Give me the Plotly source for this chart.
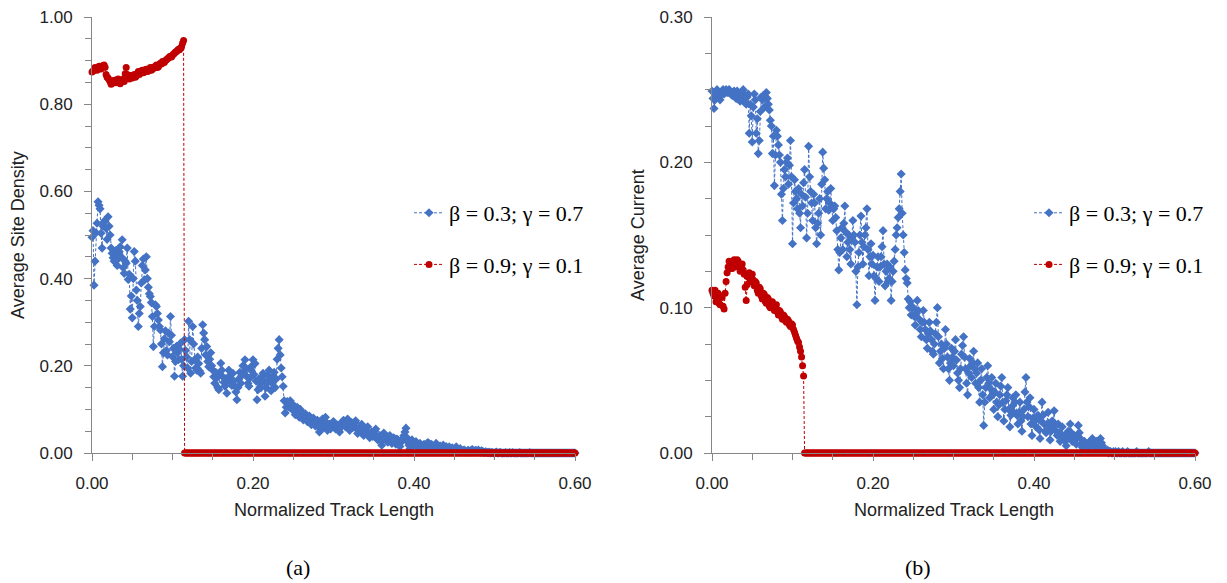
import plotly.graph_objects as go

# Positions along the track (normalized), one sample every 0.00125 from 0 to 0.6
track = [round(i * 0.00125, 5) for i in range(481)]

# Average site density, beta = 0.3, gamma = 0.7
density_b03 = [
    0.495, 0.510, 0.385, 0.440, 0.505, 0.527, 0.576, 0.568, 0.560, 0.504, 0.470, 0.520, 0.530, 0.534, 0.515, 0.490, 0.542, 0.520, 0.500, 0.470,
    0.458, 0.448, 0.440, 0.455, 0.465, 0.430, 0.445, 0.462, 0.473, 0.450, 0.489, 0.425, 0.412, 0.440, 0.435, 0.470, 0.398, 0.410, 0.330, 0.360,
    0.310, 0.400, 0.462, 0.440, 0.374, 0.350, 0.290, 0.320, 0.336, 0.390, 0.430, 0.445, 0.397, 0.420, 0.450, 0.400, 0.380, 0.365, 0.359, 0.345,
    0.313, 0.244, 0.290, 0.340, 0.336, 0.320, 0.305, 0.290, 0.282, 0.250, 0.198, 0.230, 0.262, 0.280, 0.235, 0.225, 0.275, 0.255, 0.313, 0.270,
    0.221, 0.240, 0.176, 0.210, 0.245, 0.230, 0.214, 0.238, 0.252, 0.215, 0.176, 0.200, 0.260, 0.235, 0.220, 0.195, 0.302, 0.260, 0.183, 0.210,
    0.290, 0.250, 0.214, 0.195, 0.190, 0.220, 0.205, 0.188, 0.183, 0.240, 0.294, 0.275, 0.260, 0.225, 0.244, 0.210, 0.198, 0.215, 0.230, 0.200,
    0.190, 0.175, 0.160, 0.185, 0.172, 0.150, 0.145, 0.180, 0.206, 0.190, 0.175, 0.162, 0.153, 0.170, 0.137, 0.165, 0.190, 0.178, 0.168, 0.155,
    0.183, 0.165, 0.153, 0.140, 0.122, 0.150, 0.170, 0.185, 0.160, 0.178, 0.200, 0.185, 0.214, 0.195, 0.175, 0.160, 0.153, 0.172, 0.190, 0.200,
    0.214, 0.180, 0.205, 0.165, 0.122, 0.145, 0.170, 0.158, 0.150, 0.175, 0.183, 0.165, 0.130, 0.150, 0.160, 0.178, 0.190, 0.170, 0.143, 0.160,
    0.175, 0.185, 0.150, 0.170, 0.215, 0.240, 0.260, 0.225, 0.195, 0.175, 0.153, 0.120, 0.092, 0.105, 0.118, 0.110, 0.105, 0.120, 0.112, 0.100,
    0.098, 0.108, 0.088, 0.095, 0.105, 0.090, 0.082, 0.100, 0.094, 0.084, 0.076, 0.088, 0.090, 0.080, 0.072, 0.078, 0.085, 0.070, 0.065, 0.076,
    0.080, 0.068, 0.062, 0.072, 0.075, 0.060, 0.048, 0.065, 0.070, 0.078, 0.058, 0.066, 0.082, 0.070, 0.052, 0.062, 0.066, 0.055, 0.060, 0.070,
    0.072, 0.064, 0.055, 0.060, 0.064, 0.052, 0.048, 0.058, 0.068, 0.072, 0.075, 0.066, 0.060, 0.070, 0.078, 0.065, 0.052, 0.062, 0.070, 0.058,
    0.062, 0.070, 0.074, 0.055, 0.045, 0.052, 0.058, 0.062, 0.066, 0.050, 0.040, 0.048, 0.052, 0.045, 0.060, 0.042, 0.035, 0.044, 0.048, 0.038,
    0.042, 0.050, 0.055, 0.038, 0.030, 0.035, 0.040, 0.028, 0.018, 0.032, 0.046, 0.038, 0.033, 0.028, 0.025, 0.035, 0.040, 0.030, 0.022, 0.028,
    0.035, 0.026, 0.020, 0.032, 0.030, 0.022, 0.015, 0.024, 0.028, 0.034, 0.040, 0.048, 0.057, 0.035, 0.025, 0.018, 0.010, 0.020, 0.030, 0.022,
    0.018, 0.024, 0.026, 0.016, 0.012, 0.020, 0.022, 0.014, 0.008, 0.016, 0.020, 0.012, 0.015, 0.022, 0.024, 0.015, 0.010, 0.020, 0.018, 0.012,
    0.014, 0.018, 0.022, 0.012, 0.008, 0.014, 0.016, 0.010, 0.012, 0.018, 0.006, 0.010, 0.015, 0.008, 0.010, 0.014, 0.004, 0.009, 0.012, 0.006,
    0.008, 0.011, 0.014, 0.009, 0.005, 0.008, 0.010, 0.004, 0.003, 0.006, 0.007, 0.004, 0.002, 0.005, 0.006, 0.003, 0.004, 0.007, 0.008, 0.004,
    0.003, 0.006, 0.005, 0.003, 0.007, 0.004, 0.002, 0.005, 0.004, 0.002, 0.001, 0.003, 0.002, 0.001, 0.001, 0.002, 0.000, 0.001, 0.001, 0.000,
    0.000, 0.001, 0.002, 0.000, 0.000, 0.001, 0.001, 0.000, 0.000, 0.000, 0.000, 0.001, 0.000, 0.000, 0.000, 0.001, 0.000, 0.000, 0.001, 0.000,
    0.000, 0.000, 0.000, 0.000, 0.000, 0.001, 0.000, 0.000, 0.000, 0.000, 0.000, 0.000, 0.000, 0.000, 0.000, 0.001, 0.000, 0.000, 0.000, 0.000,
    0, 0, 0, 0, 0, 0, 0, 0, 0, 0, 0, 0, 0, 0, 0, 0, 0, 0, 0, 0,
    0, 0, 0, 0, 0, 0, 0, 0, 0, 0, 0, 0, 0, 0, 0, 0, 0, 0, 0, 0,
    0,
]

# Average site density, beta = 0.9, gamma = 0.1 (empty beyond sample 91)
density_b09 = [
    0.874, 0.876, 0.878, 0.884, 0.882, 0.878, 0.880, 0.887, 0.886, 0.881, 0.884, 0.889, 0.890, 0.885, 0.868, 0.862, 0.860, 0.856, 0.852, 0.846,
    0.848, 0.852, 0.855, 0.849, 0.850, 0.856, 0.858, 0.852, 0.847, 0.851, 0.854, 0.858, 0.852, 0.870, 0.884, 0.868, 0.862, 0.858, 0.866, 0.862,
    0.860, 0.865, 0.868, 0.862, 0.864, 0.870, 0.875, 0.868, 0.871, 0.876, 0.878, 0.872, 0.874, 0.879, 0.880, 0.875, 0.876, 0.881, 0.884, 0.878,
    0.880, 0.885, 0.883, 0.887, 0.890, 0.884, 0.886, 0.891, 0.894, 0.892, 0.898, 0.895, 0.896, 0.900, 0.902, 0.904, 0.906, 0.909, 0.910, 0.908,
    0.912, 0.915, 0.917, 0.920, 0.921, 0.924, 0.926, 0.925, 0.929, 0.932, 0.940, 0.946,
    0, 0, 0, 0, 0, 0, 0, 0, 0, 0, 0, 0, 0, 0, 0, 0, 0, 0, 0, 0,  # 92-111
    0, 0, 0, 0, 0, 0, 0, 0, 0, 0, 0, 0, 0, 0, 0, 0, 0, 0, 0, 0,  # 112-131
    0, 0, 0, 0, 0, 0, 0, 0, 0, 0, 0, 0, 0, 0, 0, 0, 0, 0, 0, 0,  # 132-151
    0, 0, 0, 0, 0, 0, 0, 0, 0, 0, 0, 0, 0, 0, 0, 0, 0, 0, 0, 0,  # 152-171
    0, 0, 0, 0, 0, 0, 0, 0, 0, 0, 0, 0, 0, 0, 0, 0, 0, 0, 0, 0,  # 172-191
    0, 0, 0, 0, 0, 0, 0, 0, 0, 0, 0, 0, 0, 0, 0, 0, 0, 0, 0, 0,  # 192-211
    0, 0, 0, 0, 0, 0, 0, 0, 0, 0, 0, 0, 0, 0, 0, 0, 0, 0, 0, 0,  # 212-231
    0, 0, 0, 0, 0, 0, 0, 0, 0, 0, 0, 0, 0, 0, 0, 0, 0, 0, 0, 0,  # 232-251
    0, 0, 0, 0, 0, 0, 0, 0, 0, 0, 0, 0, 0, 0, 0, 0, 0, 0, 0, 0,  # 252-271
    0, 0, 0, 0, 0, 0, 0, 0, 0, 0, 0, 0, 0, 0, 0, 0, 0, 0, 0, 0,  # 272-291
    0, 0, 0, 0, 0, 0, 0, 0, 0, 0, 0, 0, 0, 0, 0, 0, 0, 0, 0, 0,  # 292-311
    0, 0, 0, 0, 0, 0, 0, 0, 0, 0, 0, 0, 0, 0, 0, 0, 0, 0, 0, 0,  # 312-331
    0, 0, 0, 0, 0, 0, 0, 0, 0, 0, 0, 0, 0, 0, 0, 0, 0, 0, 0, 0,  # 332-351
    0, 0, 0, 0, 0, 0, 0, 0, 0, 0, 0, 0, 0, 0, 0, 0, 0, 0, 0, 0,  # 352-371
    0, 0, 0, 0, 0, 0, 0, 0, 0, 0, 0, 0, 0, 0, 0, 0, 0, 0, 0, 0,  # 372-391
    0, 0, 0, 0, 0, 0, 0, 0, 0, 0, 0, 0, 0, 0, 0, 0, 0, 0, 0, 0,  # 392-411
    0, 0, 0, 0, 0, 0, 0, 0, 0, 0, 0, 0, 0, 0, 0, 0, 0, 0, 0, 0,  # 412-431
    0, 0, 0, 0, 0, 0, 0, 0, 0, 0, 0, 0, 0, 0, 0, 0, 0, 0, 0, 0,  # 432-451
    0, 0, 0, 0, 0, 0, 0, 0, 0, 0, 0, 0, 0, 0, 0, 0, 0, 0, 0, 0,  # 452-471
    0, 0, 0, 0, 0, 0, 0, 0, 0,  # 472-480
]

# Average current, beta = 0.3, gamma = 0.7
current_b03 = [
    0.249, 0.244, 0.237, 0.243, 0.246, 0.250, 0.248, 0.245, 0.243, 0.247, 0.249, 0.250, 0.247, 0.249, 0.250, 0.248, 0.248, 0.250, 0.249, 0.247,
    0.246, 0.248, 0.249, 0.245, 0.244, 0.249, 0.247, 0.243, 0.242, 0.246, 0.248, 0.250, 0.245, 0.241, 0.240, 0.245, 0.247, 0.220, 0.240, 0.232,
    0.214, 0.238, 0.247, 0.243, 0.220, 0.230, 0.206, 0.215, 0.235, 0.245, 0.243, 0.246, 0.238, 0.244, 0.248, 0.244, 0.240, 0.236, 0.229, 0.225,
    0.206, 0.218, 0.184, 0.205, 0.222, 0.218, 0.212, 0.205, 0.200, 0.178, 0.160, 0.182, 0.195, 0.190, 0.200, 0.203, 0.185, 0.198, 0.215, 0.190,
    0.144, 0.172, 0.188, 0.180, 0.175, 0.168, 0.182, 0.165, 0.155, 0.178, 0.170, 0.186, 0.195, 0.176, 0.148, 0.165, 0.211, 0.190, 0.180, 0.172,
    0.160, 0.178, 0.172, 0.155, 0.144, 0.158, 0.165, 0.175, 0.150, 0.185, 0.207, 0.196, 0.188, 0.168, 0.175, 0.180, 0.167, 0.172, 0.182, 0.170,
    0.160, 0.168, 0.170, 0.162, 0.153, 0.140, 0.126, 0.138, 0.148, 0.155, 0.140, 0.158, 0.170, 0.152, 0.135, 0.145, 0.150, 0.140, 0.130, 0.148,
    0.160, 0.150, 0.145, 0.125, 0.102, 0.128, 0.138, 0.150, 0.163, 0.145, 0.130, 0.142, 0.150, 0.155, 0.168, 0.140, 0.122, 0.135, 0.144, 0.130,
    0.136, 0.122, 0.105, 0.120, 0.128, 0.135, 0.118, 0.128, 0.135, 0.142, 0.153, 0.130, 0.115, 0.125, 0.130, 0.118, 0.120, 0.128, 0.105, 0.118,
    0.125, 0.132, 0.140, 0.150, 0.155, 0.162, 0.168, 0.180, 0.192, 0.165, 0.150, 0.138, 0.126, 0.120, 0.117, 0.106, 0.100, 0.104, 0.095, 0.100,
    0.100, 0.094, 0.088, 0.096, 0.105, 0.098, 0.092, 0.085, 0.080, 0.090, 0.098, 0.090, 0.085, 0.078, 0.072, 0.082, 0.090, 0.084, 0.078, 0.070,
    0.068, 0.075, 0.082, 0.090, 0.100, 0.080, 0.062, 0.070, 0.075, 0.065, 0.058, 0.072, 0.085, 0.075, 0.066, 0.058, 0.050, 0.062, 0.072, 0.066,
    0.060, 0.070, 0.078, 0.064, 0.055, 0.050, 0.045, 0.058, 0.068, 0.074, 0.080, 0.066, 0.058, 0.048, 0.040, 0.055, 0.065, 0.060, 0.052, 0.062,
    0.070, 0.058, 0.048, 0.055, 0.062, 0.045, 0.035, 0.050, 0.058, 0.040, 0.019, 0.035, 0.045, 0.052, 0.060, 0.048, 0.038, 0.044, 0.052, 0.040,
    0.030, 0.042, 0.048, 0.035, 0.025, 0.033, 0.040, 0.046, 0.052, 0.035, 0.022, 0.030, 0.036, 0.040, 0.045, 0.030, 0.018, 0.026, 0.032, 0.038,
    0.028, 0.035, 0.040, 0.026, 0.020, 0.028, 0.035, 0.022, 0.015, 0.025, 0.030, 0.042, 0.052, 0.035, 0.025, 0.032, 0.038, 0.020, 0.012, 0.024,
    0.030, 0.022, 0.018, 0.025, 0.026, 0.016, 0.010, 0.022, 0.035, 0.026, 0.020, 0.015, 0.014, 0.020, 0.028, 0.018, 0.009, 0.015, 0.022, 0.018,
    0.029, 0.020, 0.015, 0.012, 0.020, 0.014, 0.008, 0.012, 0.018, 0.010, 0.012, 0.008, 0.005, 0.010, 0.015, 0.012, 0.020, 0.014, 0.008, 0.011,
    0.012, 0.009, 0.006, 0.012, 0.019, 0.014, 0.010, 0.006, 0.004, 0.007, 0.008, 0.005, 0.003, 0.006, 0.007, 0.004, 0.005, 0.008, 0.010, 0.006,
    0.004, 0.006, 0.008, 0.004, 0.002, 0.006, 0.010, 0.007, 0.005, 0.003, 0.002, 0.001, 0.001, 0.002, 0.000, 0.001, 0.001, 0.000, 0.000, 0.001,
    0.000, 0.001, 0.000, 0.000, 0.001, 0.000, 0.000, 0.000, 0.001, 0.000, 0.000, 0.000, 0.000, 0.001, 0.000, 0.000, 0.000, 0.000, 0.000, 0.000,
    0.000, 0.000, 0.001, 0.000, 0.000, 0.000, 0.000, 0.000, 0.000, 0.000, 0.000, 0.000, 0.000, 0.000, 0.001, 0.000, 0.000, 0.000, 0.000, 0.000,
    0, 0, 0, 0, 0, 0, 0, 0, 0, 0, 0, 0, 0, 0, 0, 0, 0, 0, 0, 0,
    0, 0, 0, 0, 0, 0, 0, 0, 0, 0, 0, 0, 0, 0, 0, 0, 0, 0, 0, 0,
    0,
]

# Average current, beta = 0.9, gamma = 0.1 (zero beyond sample 91)
current_b09 = [
    0.112, 0.110, 0.108, 0.112, 0.104, 0.106, 0.110, 0.103, 0.102, 0.108, 0.107, 0.101, 0.099, 0.110, 0.118, 0.124, 0.128, 0.132, 0.131, 0.127,
    0.127, 0.130, 0.133, 0.128, 0.129, 0.133, 0.132, 0.128, 0.125, 0.129, 0.130, 0.126, 0.123, 0.114, 0.105, 0.116, 0.121, 0.124, 0.118, 0.122,
    0.123, 0.119, 0.115, 0.118, 0.117, 0.112, 0.110, 0.114, 0.113, 0.108, 0.106, 0.110, 0.109, 0.104, 0.103, 0.107, 0.106, 0.101, 0.100, 0.103,
    0.104, 0.100, 0.098, 0.101, 0.102, 0.097, 0.095, 0.098, 0.097, 0.094, 0.092, 0.095, 0.094, 0.091, 0.090, 0.092, 0.091, 0.088, 0.087, 0.089,
    0.088, 0.085, 0.083, 0.081, 0.079, 0.077, 0.076, 0.073, 0.070, 0.066, 0.060, 0.053,
    0, 0, 0, 0, 0, 0, 0, 0, 0, 0, 0, 0, 0, 0, 0, 0, 0, 0, 0, 0,  # 92-111
    0, 0, 0, 0, 0, 0, 0, 0, 0, 0, 0, 0, 0, 0, 0, 0, 0, 0, 0, 0,  # 112-131
    0, 0, 0, 0, 0, 0, 0, 0, 0, 0, 0, 0, 0, 0, 0, 0, 0, 0, 0, 0,  # 132-151
    0, 0, 0, 0, 0, 0, 0, 0, 0, 0, 0, 0, 0, 0, 0, 0, 0, 0, 0, 0,  # 152-171
    0, 0, 0, 0, 0, 0, 0, 0, 0, 0, 0, 0, 0, 0, 0, 0, 0, 0, 0, 0,  # 172-191
    0, 0, 0, 0, 0, 0, 0, 0, 0, 0, 0, 0, 0, 0, 0, 0, 0, 0, 0, 0,  # 192-211
    0, 0, 0, 0, 0, 0, 0, 0, 0, 0, 0, 0, 0, 0, 0, 0, 0, 0, 0, 0,  # 212-231
    0, 0, 0, 0, 0, 0, 0, 0, 0, 0, 0, 0, 0, 0, 0, 0, 0, 0, 0, 0,  # 232-251
    0, 0, 0, 0, 0, 0, 0, 0, 0, 0, 0, 0, 0, 0, 0, 0, 0, 0, 0, 0,  # 252-271
    0, 0, 0, 0, 0, 0, 0, 0, 0, 0, 0, 0, 0, 0, 0, 0, 0, 0, 0, 0,  # 272-291
    0, 0, 0, 0, 0, 0, 0, 0, 0, 0, 0, 0, 0, 0, 0, 0, 0, 0, 0, 0,  # 292-311
    0, 0, 0, 0, 0, 0, 0, 0, 0, 0, 0, 0, 0, 0, 0, 0, 0, 0, 0, 0,  # 312-331
    0, 0, 0, 0, 0, 0, 0, 0, 0, 0, 0, 0, 0, 0, 0, 0, 0, 0, 0, 0,  # 332-351
    0, 0, 0, 0, 0, 0, 0, 0, 0, 0, 0, 0, 0, 0, 0, 0, 0, 0, 0, 0,  # 352-371
    0, 0, 0, 0, 0, 0, 0, 0, 0, 0, 0, 0, 0, 0, 0, 0, 0, 0, 0, 0,  # 372-391
    0, 0, 0, 0, 0, 0, 0, 0, 0, 0, 0, 0, 0, 0, 0, 0, 0, 0, 0, 0,  # 392-411
    0, 0, 0, 0, 0, 0, 0, 0, 0, 0, 0, 0, 0, 0, 0, 0, 0, 0, 0, 0,  # 412-431
    0, 0, 0, 0, 0, 0, 0, 0, 0, 0, 0, 0, 0, 0, 0, 0, 0, 0, 0, 0,  # 432-451
    0, 0, 0, 0, 0, 0, 0, 0, 0, 0, 0, 0, 0, 0, 0, 0, 0, 0, 0, 0,  # 452-471
    0, 0, 0, 0, 0, 0, 0, 0, 0,  # 472-480
]

lengths = {name: len(s) for name, s in (("density_b03", density_b03), ("density_b09", density_b09),
                                          ("current_b03", current_b03), ("current_b09", current_b09))}
assert all(n == len(track) for n in lengths.values()), lengths

labels = ["β = 0.3; γ = 0.7", "β = 0.9; γ = 0.1"]
x_ticks = [0.0, 0.2, 0.4, 0.6]
density_ticks = [0.0, 0.2, 0.4, 0.6, 0.8, 1.0]
current_ticks = [0.0, 0.1, 0.2, 0.3]

BLUE = "#4472C4"
RED = "#C00000"
AXIS = "#868686"
SANS = "Liberation Sans Narrow, Arial Narrow, Liberation Sans, sans-serif"
SERIF = "Liberation Serif, Times New Roman, serif"

fig = go.Figure()


def add_pair(blue_y, red_y, xa, ya, legend_id, grp):
    fig.add_trace(go.Scatter(
        x=track, y=blue_y, xaxis=xa, yaxis=ya, mode="lines+markers",
        name=labels[0], legend=legend_id, legendgroup=grp + "1",
        line=dict(color=BLUE, width=1, dash="3px,2px"),
        marker=dict(symbol="diamond", size=7, color=BLUE),
        cliponaxis=False,
    ))
    fig.add_trace(go.Scatter(
        x=track, y=red_y, xaxis=xa, yaxis=ya, mode="lines+markers",
        name=labels[1], legend=legend_id, legendgroup=grp + "2",
        line=dict(color=RED, width=1, dash="3px,2px"),
        marker=dict(symbol="circle", size=7, color=RED),
        cliponaxis=False,
    ))


add_pair(density_b03, density_b09, "x", "y", "legend", "a")
add_pair(current_b03, current_b09, "x2", "y2", "legend2", "b")

common_axis = dict(
    showline=True, linecolor=AXIS, linewidth=1,
    ticks="outside", ticklen=7, tickcolor=AXIS, tickwidth=1,
    showgrid=False, zeroline=False, tickformat=".2f", automargin=False,
    tickfont=dict(family=SANS, size=17, color="#222222"),
    ticklabelstandoff=8,
)

Y_DOMAIN = [130 / 583, 566 / 583]

fig.update_layout(
    width=1227, height=583,
    margin=dict(l=0, r=0, t=0, b=0),
    paper_bgcolor="white", plot_bgcolor="white",
    xaxis=dict(domain=[92 / 1227, 575 / 1227], range=[0, 0.6], tickvals=x_ticks,
               anchor="y",
               minor=dict(dtick=0.05, ticks="outside", ticklen=6, tickcolor=AXIS),
               **common_axis),
    yaxis=dict(domain=Y_DOMAIN, range=[0, 1], tickvals=density_ticks, anchor="x",
               minor=dict(dtick=0.05, ticks="outside", ticklen=6, tickcolor=AXIS),
               **common_axis),
    xaxis2=dict(domain=[712 / 1227, 1195 / 1227], range=[0, 0.6], tickvals=x_ticks,
                anchor="y2",
                minor=dict(dtick=0.05, ticks="outside", ticklen=6, tickcolor=AXIS),
                **common_axis),
    yaxis2=dict(domain=Y_DOMAIN, range=[0, 0.3], tickvals=current_ticks, anchor="x2",
                minor=dict(dtick=0.025, ticks="outside", ticklen=6, tickcolor=AXIS),
                **common_axis),
    legend=dict(x=409 / 1227, y=1 - 192 / 583, xanchor="left", yanchor="top",
                bgcolor="rgba(0,0,0,0)", font=dict(family=SERIF, size=22, color="black"),
                tracegroupgap=20, itemwidth=30),
    legend2=dict(x=1029 / 1227, y=1 - 192 / 583, xanchor="left", yanchor="top",
                 bgcolor="rgba(0,0,0,0)", font=dict(family=SERIF, size=22, color="black"),
                 tracegroupgap=20, itemwidth=30),
)

title_font = dict(family=SANS, size=18, color="#222222")
annotations = [
    dict(text="Normalized Track Length", x=333.5 / 1227, y=1 - 510 / 583),
    dict(text="Normalized Track Length", x=953.5 / 1227, y=1 - 510 / 583),
    dict(text="Average Site Density", x=18 / 1227, y=1 - 235 / 583, textangle=-90),
    dict(text="Average Current", x=638 / 1227, y=1 - 235 / 583, textangle=-90),
]
for a in annotations:
    fig.add_annotation(xref="paper", yref="paper", showarrow=False,
                       xanchor="center", yanchor="middle", font=title_font, **a)

for text, cx in (("(a)", 298), ("(b)", 918)):
    fig.add_annotation(text=text, xref="paper", yref="paper", x=cx / 1227,
                       y=1 - 567 / 583, showarrow=False, xanchor="center",
                       yanchor="middle", font=dict(family=SERIF, size=22, color="black"))

fig.write_html("out.html")
